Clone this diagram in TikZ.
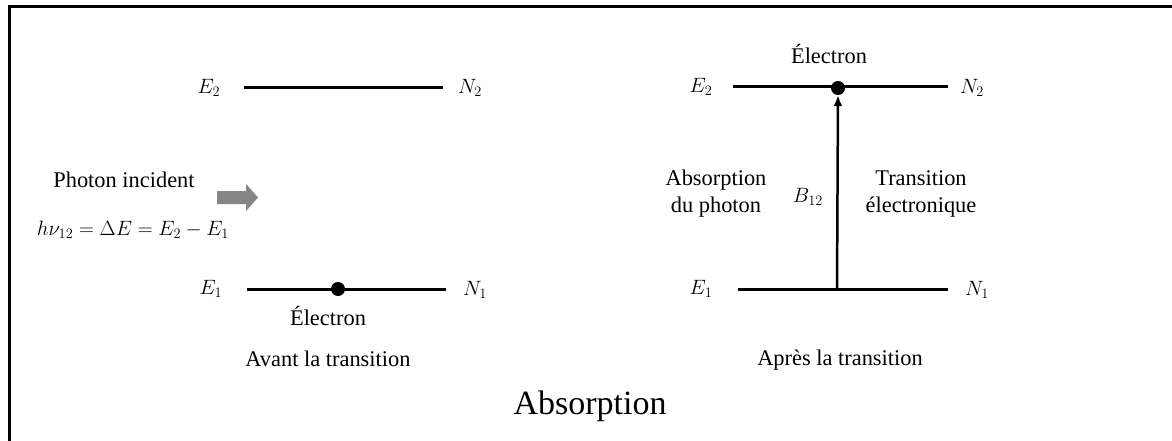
\documentclass[tikz,border=0pt]{standalone}
\usepackage{fontspec}
\setmainfont{Liberation Serif}
\usetikzlibrary{arrows.meta}
\tikzset{
  lvl/.style={line width=3pt},
  txt/.style={font=\fontsize{22.4}{27}\selectfont, inner sep=0pt, align=center},
  eqn/.style={font=\fontsize{20}{24}\selectfont, inner sep=0pt},
  big/.style={font=\fontsize{34}{40}\selectfont, inner sep=0pt},
  dot/.style={circle, fill=black, minimum size=14pt, inner sep=0pt},
}
\begin{document}
\begin{tikzpicture}[x=1pt,y=-1pt]
\useasboundingbox (0,0) rectangle (1172,441);
\begin{scope}
\clip (0,0) rectangle (1172,441);
\draw[line width=3pt] (9,460) -- (9,7) -- (1190,7);
\end{scope}
% left diagram
\node[txt] (lE2) at (209,88) {$E_2$};
\node[txt] (lN2) at (470,88) {$N_2$};
\coordinate (la2) at (244,88);
\coordinate (lb2) at (443,88);
\draw[lvl] (la2) -- (lb2);
\node[txt] (lE1) at (211,289) {$E_1$};
\node[txt] (lN1) at (475,290) {$N_1$};
\coordinate (la1) at (247,289);
\coordinate (lb1) at (446,289);
\draw[lvl] (la1) -- (lb1);
\node[dot] (ldot) at (338,289) {};
\node[txt] (lel) at (328,316) {Électron};
\node[txt] (avant) at (328,359) {Avant la transition};
\node[txt] (phot) at (124,180) {Photon incident};
\node[eqn] (eq) at (133,230) {$h\nu_{12}=\Delta E=E_2-E_1$};
\fill[gray!95] (217,191) -- (246,191) -- (246,184) -- (258,197.5) -- (246,211) -- (246,204) -- (217,204) -- cycle;
% right diagram
\node[txt] (rE2) at (701,87) {$E_2$};
\node[txt] (rN2) at (972,88) {$N_2$};
\coordinate (ra2) at (733,87);
\coordinate (rb2) at (948,87);
\draw[lvl] (ra2) -- (rb2);
\node[dot] (rdot) at (838,88) {};
\node[txt] (rel) at (829,54) {Électron};
\node[txt] (rE1) at (701,289) {$E_1$};
\node[txt] (rN1) at (977,290) {$N_1$};
\coordinate (ra1) at (738,289);
\coordinate (rb1) at (948,289);
\draw[lvl] (ra1) -- (rb1);
\coordinate (rbase) at (837,289);
\draw[line width=2.5pt, -{Latex[length=11pt,width=9pt]}] (rbase) -- (rdot.south);
\node[txt] (abs) at (716,194) {Absorption\\du photon};
\node[txt] (b12) at (808,197) {$B_{12}$};
\node[txt] (trans) at (921,194) {Transition\\électronique};
\node[txt] (apres) at (840,360) {Après la transition};
\node[big] (title) at (590,406) {Absorption};
\end{tikzpicture}
\end{document}
